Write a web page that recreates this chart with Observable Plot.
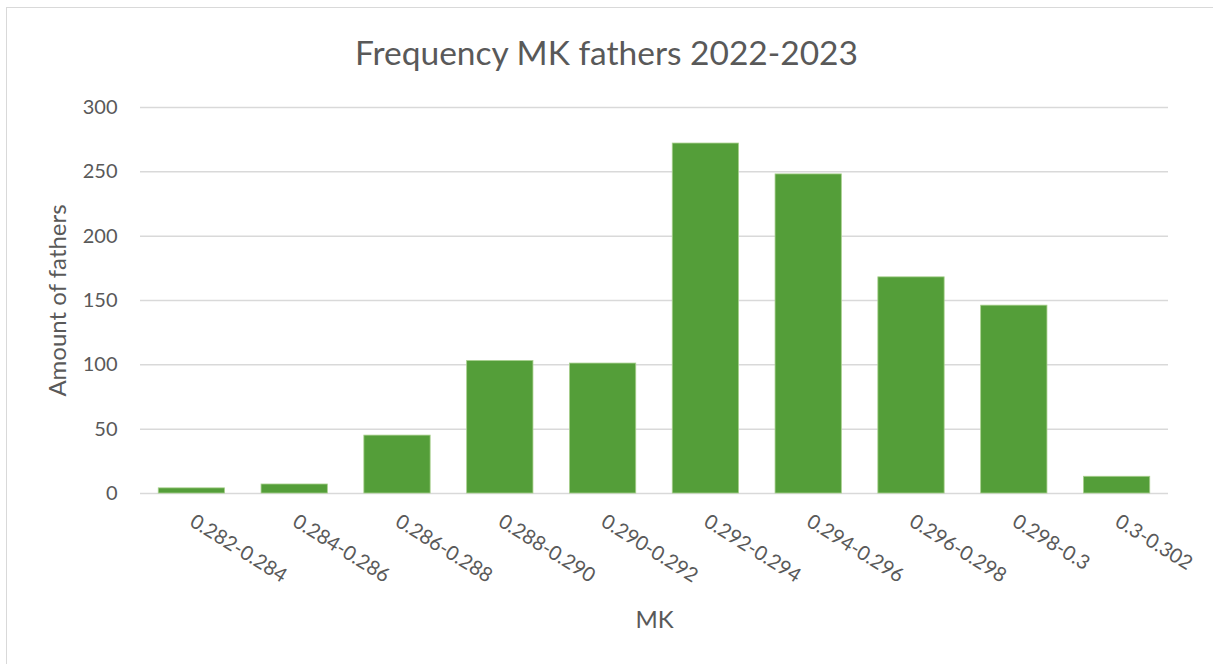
<!DOCTYPE html>
<html>
<head>
<meta charset="utf-8">
<script src="https://cdn.jsdelivr.net/npm/d3@7"></script>
<script src="https://cdn.jsdelivr.net/npm/@observablehq/plot@0.6"></script>
<style>
  html, body { margin: 0; padding: 0; background: #fff; }
  #wrap { position: relative; width: 1213px; height: 664px; overflow: hidden; font-family: Lato, sans-serif; }
  #frame { position: absolute; left: 6px; top: 7px; width: 1300px; height: 800px; border: 1.5px solid #d9d9d9; box-sizing: border-box; }
  #title { position: absolute; left: 0; top: 0; width: 1213px; height: 75px; text-align: center; font-size: 33.5px; line-height: 104px; color: #595959; }
  #chart { position: absolute; left: 0; top: 75px; }
  #chart g[aria-label="y-axis label"] text, #chart g[aria-label="x-axis label"] text { font-size: 24px; }
</style>
</head>
<body>
<div id="wrap">
  <div id="frame"></div>
  <div id="title">Frequency MK fathers 2022-2023</div>
  <div id="chart"></div>
</div>
<script>
// MK bins and number of fathers per bin
const bins = ["0.282-0.284", "0.284-0.286", "0.286-0.288", "0.288-0.290", "0.290-0.292",
              "0.292-0.294", "0.294-0.296", "0.296-0.298", "0.298-0.3", "0.3-0.302"];
const counts = [4, 7, 45, 103, 101, 272, 248, 168, 146, 13];
const yTicks = [0, 50, 100, 150, 200, 250, 300];

const data = bins.map((b, i) => ({bin: b, count: counts[i]}));

const chart = Plot.plot({
  width: 1213,
  height: 589,
  marginLeft: 140,
  marginRight: 45,
  marginTop: 32,
  marginBottom: 171,
  style: {fontFamily: "Lato, sans-serif", fontSize: "20px", color: "#595959", background: "transparent"},
  x: {domain: bins, paddingInner: 0.355, paddingOuter: 0.1775, round: false},
  y: {domain: [0, 300]},
  marks: [
    Plot.gridY(yTicks, {stroke: "#d9d9d9", strokeOpacity: 1, strokeWidth: 1.5}),
    Plot.barY(data, {x: "bin", y: "count", fill: "#549e39", stroke: "#a9d08e", strokeWidth: 0.8}),
    Plot.axisY(yTicks, {tickSize: 0, tickPadding: 23, label: "Amount of fathers", labelAnchor: "center", labelArrow: "none", labelOffset: 92}),
    Plot.axisX({tickSize: 0, tickPadding: 26, tickRotate: 32, label: "MK", labelAnchor: "center", labelArrow: "none", labelOffset: 134})
  ]
});
document.getElementById("chart").appendChild(chart);
</script>
</body>
</html>
